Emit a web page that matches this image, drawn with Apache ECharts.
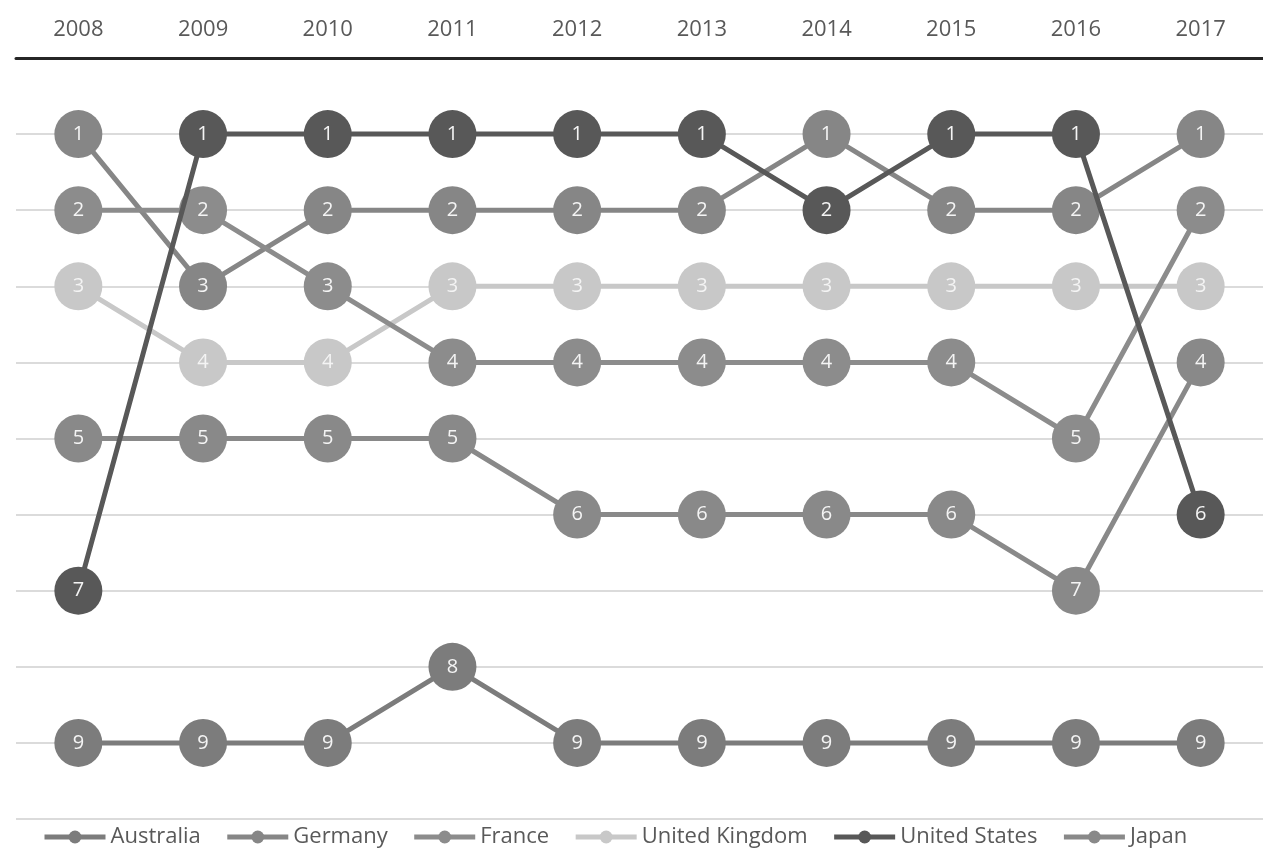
<!DOCTYPE html>
<html>
<head>
<meta charset="utf-8">
<script src="https://cdn.jsdelivr.net/npm/echarts@6/dist/echarts.min.js"></script>
<style>
html,body{margin:0;padding:0;background:#fff;}
#chart{width:1263px;height:850px;}
</style>
</head>
<body>
<div id="chart"></div>
<script>
const years = ['2008','2009','2010','2011','2012','2013','2014','2015','2016','2017'];
const australia = [9,9,9,8,9,9,9,9,9,9];
const germany   = [1,3,2,2,2,2,1,2,2,1];
const france    = [2,2,3,4,4,4,4,4,5,2];
const unitedKingdom = [3,4,4,3,3,3,3,3,3,3];
const unitedStates  = [7,1,1,1,1,1,2,1,1,6];
const japan     = [5,5,5,5,6,6,6,6,7,4];

const seriesDefs = [
  {name:'Australia', data:australia, color:'#7c7c7c', z:2},
  {name:'Germany', data:germany, color:'#868686', z:3},
  {name:'France', data:france, color:'#8c8c8c', z:3},
  {name:'United Kingdom', data:unitedKingdom, color:'#c8c8c8', z:2},
  {name:'United States', data:unitedStates, color:'#585858', z:5},
  {name:'Japan', data:japan, color:'#898989', z:3}
];

const FONT = 'Open Sans';
const chart = echarts.init(document.getElementById('chart'), null, {renderer:'canvas'});
chart.setOption({
  backgroundColor:'#ffffff',
  animation:false,
  textStyle:{fontFamily:FONT},
  grid:{left:16, width:1257, top:58, height:761},
  xAxis:{
    type:'category', position:'top', data:years, boundaryGap:true,
    axisTick:{show:false},
    axisLine:{show:true, lineStyle:{color:'#262626', width:3}},
    axisLabel:{fontSize:22, color:'#595959', margin:17, fontFamily:FONT},
    splitLine:{show:false}, z:10
  },
  yAxis:{
    type:'value', inverse:true, min:0, max:10, interval:1,
    axisLine:{show:false}, axisTick:{show:false}, axisLabel:{show:false},
    splitLine:{show:true, lineStyle:{color:'#cfcfcf', width:1.5}}
  },
  legend:{
    left:37, top:821, itemWidth:61, itemHeight:16, itemGap:24,
    lineStyle:{width:5},
    textStyle:{fontSize:22, color:'#595959', fontFamily:FONT},
    data:seriesDefs.map(s=>s.name)
  },
  series:seriesDefs.map(s=>({
    name:s.name, type:'line', data:s.data, z:s.z,
    symbol:'circle', symbolSize:48, showAllSymbol:true,
    lineStyle:{color:s.color, width:5},
    itemStyle:{color:s.color},
    label:{show:true, position:'inside', formatter:'{c}', color:'#f4f4f4', fontSize:20, fontFamily:FONT},
    emphasis:{disabled:true}
  }))
});
</script>
</body>
</html>
